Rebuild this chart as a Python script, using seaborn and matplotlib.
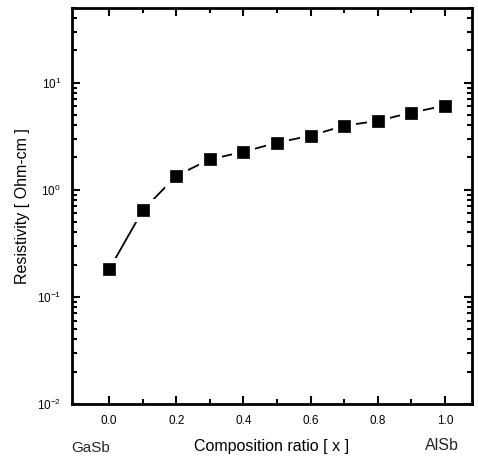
import numpy as np
import pandas as pd
import matplotlib
matplotlib.use("Agg")
import matplotlib.pyplot as plt
import seaborn as sns
from matplotlib.ticker import LogLocator, FixedLocator, NullFormatter

# composition x of Ga(1-x)Al(x)Sb and measured resistivity
composition = [0.0, 0.1, 0.2, 0.3, 0.4, 0.5, 0.6, 0.7, 0.8, 0.9, 1.0]
resistivity = [0.18, 0.64, 1.35, 1.92, 2.26, 2.75, 3.2, 3.96, 4.4, 5.25, 6.1]
x_ticks = [0.0, 0.2, 0.4, 0.6, 0.8, 1.0]
x_minor = [0.1, 0.3, 0.5, 0.7, 0.9]
x_ticklabels = ["0.0", "0.2", "0.4", "0.6", "0.8", "1.0"]

df = pd.DataFrame({"x": composition, "rho": resistivity})

sns.set_style("ticks")
plt.rcParams["font.family"] = ["Liberation Sans", "DejaVu Sans"]

fig = plt.figure(figsize=(4.78, 4.61), dpi=100)
ax = fig.add_axes([0.151, 0.124, 0.836, 0.859])

sns.lineplot(data=df, x="x", y="rho", ax=ax, color="black", linewidth=1.3,
             marker="s", markersize=11, markerfacecolor="black",
             markeredgecolor="white", markeredgewidth=5)
sns.scatterplot(data=df, x="x", y="rho", ax=ax, color="black", marker="s",
                s=85, edgecolor="black", linewidth=0.5, zorder=5)

ax.set_yscale("log")
ax.set_ylim(1e-2, 50)
ax.set_xlim(-0.11, 1.08)

ax.set_xticks(x_ticks)
ax.set_xticklabels(x_ticklabels)
ax.xaxis.set_minor_locator(FixedLocator(x_minor))
ax.yaxis.set_major_locator(LogLocator(base=10, numticks=10))
ax.yaxis.set_minor_locator(LogLocator(base=10, subs=np.arange(2, 10), numticks=10))
ax.yaxis.set_minor_formatter(NullFormatter())

ax.tick_params(which="both", direction="in", top=True, right=True, width=1.5,
               labelsize=8.5, pad=8, color="black", labelcolor="black")
ax.tick_params(which="major", length=6)
ax.tick_params(which="minor", length=3.5)
for sp in ax.spines.values():
    sp.set_linewidth(2)
    sp.set_color("black")

ax.set_ylabel("Resistivity [ Ohm-cm ]", fontsize=11.5, labelpad=5, color="black")
ax.set_xlabel("Composition ratio [ x ]", fontsize=11.5, labelpad=9, color="black")
ax.text(0.045, -0.112, "GaSb", transform=ax.transAxes, ha="center", va="center",
        fontsize=11)
ax.text(0.925, -0.105, "AlSb", transform=ax.transAxes, ha="center", va="center",
        fontsize=11.5)

fig.savefig("out.png", dpi=100)
